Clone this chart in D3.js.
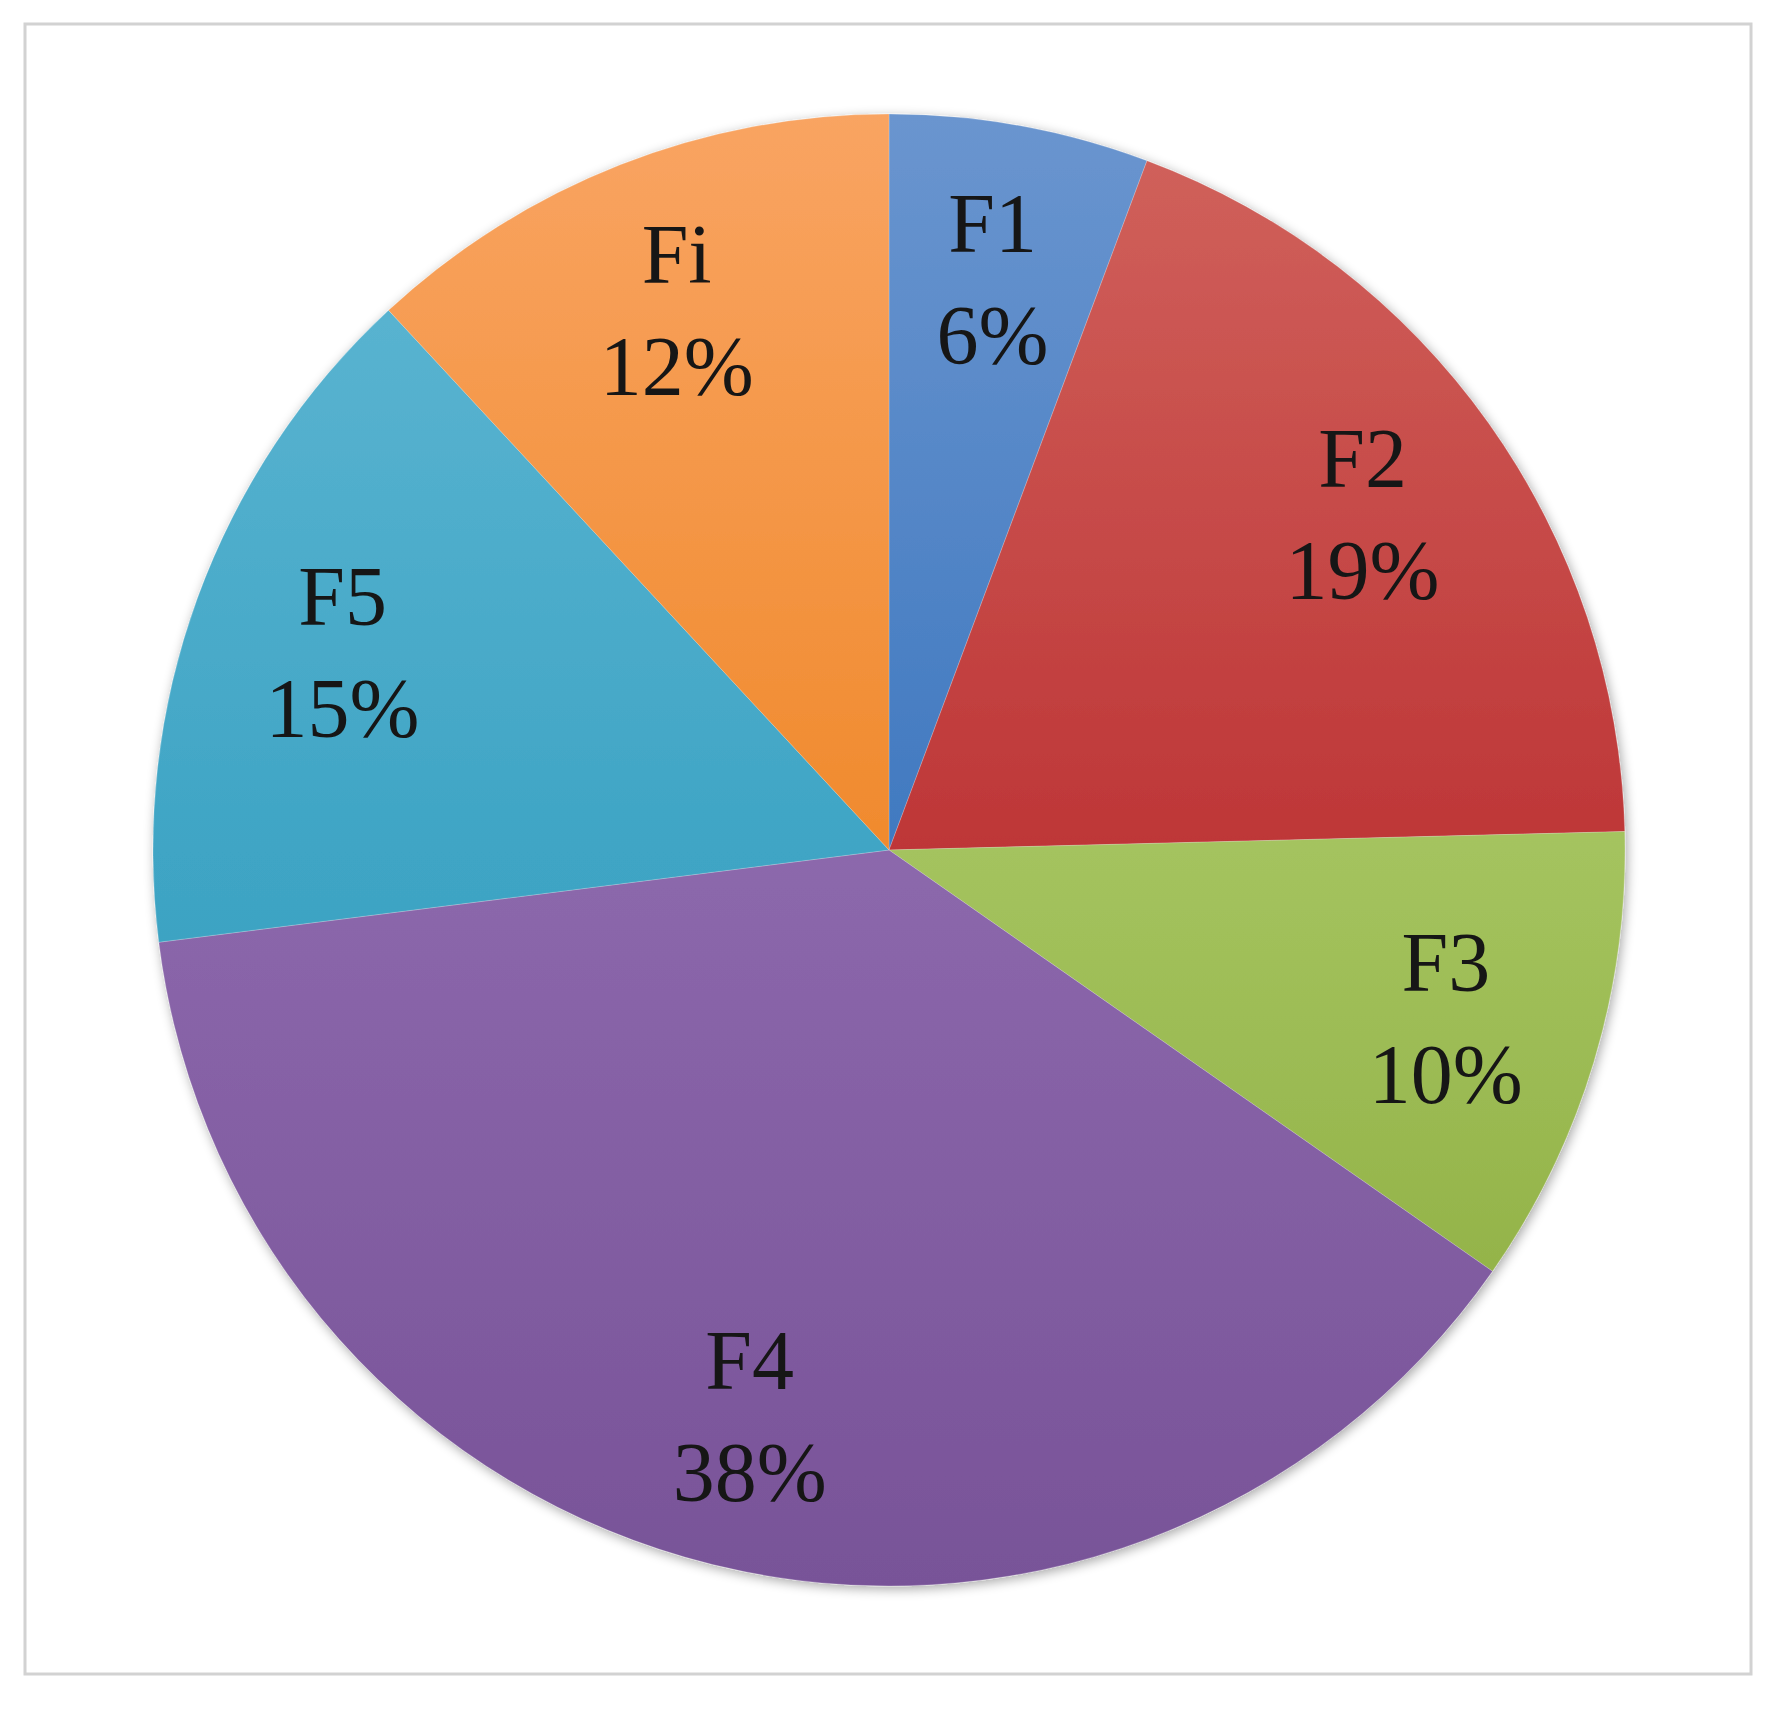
<!DOCTYPE html>
<html><head><meta charset="utf-8">
<script src="https://cdn.jsdelivr.net/npm/d3@7"></script>
<style>html,body{margin:0;padding:0;background:#fff;}</style>
</head><body>
<svg id="chart" width="1782" height="1717"></svg>
<script>
const categories = ["F1","F2","F3","F4","F5","Fi"];
const values = [5.7, 18.9, 10.1, 38.3, 15.1, 11.9];
const labels = ["6%","19%","10%","38%","15%","12%"];
// gradient colours per slice: top, middle, bottom of the pie
const gradTop = ["#6a95cf","#d1635d","#b8d27f","#9f7dbf","#62b8d4","#f9a462"];
const gradMid = ["#4079c0","#be3637","#a4c35e","#8c68ac","#3fa5c5","#f08a2d"];
const gradBot = ["#2f66ab","#aa2e2e","#88a83a","#785398","#3196b4","#dd7720"];

const cx = 889, cy = 850, R = 736;
const svg = d3.select("#chart");

svg.append("rect").attr("x",25).attr("y",24).attr("width",1726).attr("height",1650)
  .attr("fill","#fff").attr("stroke","#d2d2d2").attr("stroke-width",3);

const defs = svg.append("defs");
const shadow = defs.append("filter").attr("id","sh").attr("x","-10%").attr("y","-10%").attr("width","120%").attr("height","120%");
shadow.append("feGaussianBlur").attr("in","SourceAlpha").attr("stdDeviation",6).attr("result","b");
shadow.append("feOffset").attr("in","b").attr("dx",2).attr("dy",3).attr("result","o");
shadow.append("feComponentTransfer").attr("in","o").attr("result","o2")
  .append("feFuncA").attr("type","linear").attr("slope",0.35);
const m = shadow.append("feMerge");
m.append("feMergeNode").attr("in","o2");
m.append("feMergeNode").attr("in","SourceGraphic");

categories.forEach((c,i)=>{
  const g = defs.append("linearGradient").attr("id","g"+i)
    .attr("gradientUnits","userSpaceOnUse").attr("x1",0).attr("x2",0)
    .attr("y1",-R).attr("y2",R);
  g.append("stop").attr("offset","0%").attr("stop-color", gradTop[i]);
  g.append("stop").attr("offset","50%").attr("stop-color", gradMid[i]);
  g.append("stop").attr("offset","100%").attr("stop-color", gradBot[i]);
});

const pie = d3.pie().sort(null).value(d=>d)(values);
const arc = d3.arc().innerRadius(0).outerRadius(R);
const labelArc = d3.arc().innerRadius(R*0.79).outerRadius(R*0.79);

const g = svg.append("g").attr("transform",`translate(${cx},${cy})`);
const slices = g.append("g").attr("filter","url(#sh)");
slices.selectAll("path").data(pie).join("path")
  .attr("d",arc)
  .attr("fill",(d,i)=>`url(#g${i})`)
  .attr("stroke","rgba(255,255,255,0.2)").attr("stroke-width",1);

const font = "'Liberation Serif','DejaVu Serif',serif";
const lg = g.selectAll("g.lbl").data(pie).join("g").attr("class","lbl")
  .attr("transform",d=>{const p=labelArc.centroid(d);return `translate(${p[0]},${p[1]})`;});
lg.append("text").attr("y",-26).attr("text-anchor","middle")
  .attr("font-family",font).attr("font-size",84)
  .attr("fill","#161616").text((d,i)=>categories[i]);
lg.append("text").attr("y",86).attr("text-anchor","middle")
  .attr("font-family",font).attr("font-size",84)
  .attr("fill","#161616").text((d,i)=>labels[i]);
</script>
</body></html>
